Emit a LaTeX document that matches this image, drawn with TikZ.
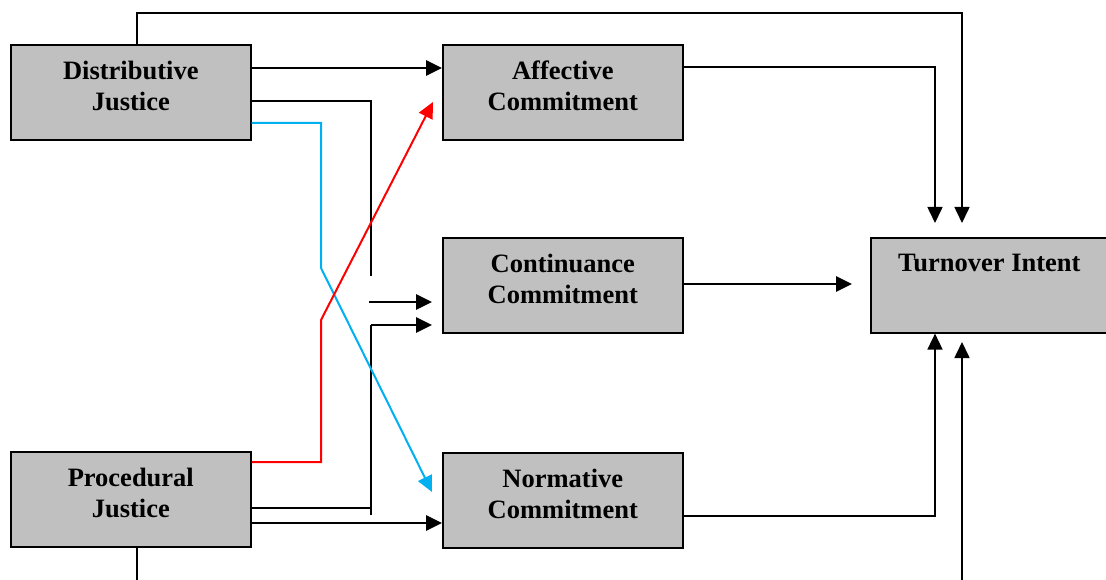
\documentclass[tikz,border=0pt]{standalone}
\usepackage{fontspec}
\setmainfont{Liberation Serif}
\usetikzlibrary{arrows.meta}
\definecolor{boxgray}{HTML}{C0C0C0}
\definecolor{bluel}{HTML}{00B0F0}
\definecolor{redl}{HTML}{FF0000}
\begin{document}
\begin{tikzpicture}[x=1pt,y=-1pt,
  box/.style={draw=black,line width=1.6pt,fill=boxgray,minimum width=240pt,minimum height=95pt,inner sep=0pt,anchor=north west},
  lbl/.style={font=\fontsize{26.5}{31}\selectfont\bfseries,align=center,inner sep=0pt,anchor=north},
  ln/.style={line width=1.6pt},
  lnc/.style={line width=2pt},
  lnb/.style={line width=2.8pt},
  tip/.style={-{Triangle[length=16pt,width=15pt]}},
]
\useasboundingbox (0,0) rectangle (1106,580);

% boxes
\node[box] (dj) at (10,44) {};
\node[box] (ac) at (442,44) {};
\node[box] (cc) at (442,237) {};
\node[box] (nc) at (442,452) {};
\node[box] (pj) at (10,451) {};
\node[box,minimum width=237pt] (ti) at (870,237) {};

% labels
\node[lbl] (djt) at ([yshift=-17pt]dj.north) {Distributive\\Justice};
\node[lbl] (act) at ([yshift=-17pt]ac.north) {Affective\\Commitment};
\node[lbl] (cct) at ([yshift=-17pt]cc.north) {Continuance\\Commitment};
\node[lbl] (nct) at ([yshift=-17pt]nc.north) {Normative\\Commitment};
\node[lbl] (pjt) at ([yshift=-17pt]pj.north) {Procedural\\Justice};
\node[lbl] (tit) at ([yshift=-17pt]ti.north) {Turnover Intent};

% free ends
\coordinate (tiA) at (962,223);
\coordinate (tiB) at (935,223);
\coordinate (tiC) at (852,284);
\coordinate (tiD) at (962,342);
\coordinate (djEnd) at (371,276);
\coordinate (ccAs) at (369,302);
\coordinate (ccA) at (432,302);
\coordinate (ccBs) at (371,325);
\coordinate (ccB) at (432,325);
\coordinate (vLow) at (371,515);
\coordinate (ncA) at (432,492);
\coordinate (acA) at (433,102);
\coordinate (pjEnd) at (137,580);
\coordinate (tiDs) at (962,580);

% top feedback line
\draw[ln,tip] (dj.north -| 137,0) -- (137,13) -| (tiA);
% DJ -> AC
\draw[lnb,tip] (dj.east |- 0,68) -- (ac.west |- 0,68);
% DJ -> (to continuance)
\draw[ln] (dj.east |- 0,101) -| (djEnd);
\draw[lnb,tip] (ccAs) -- (ccA);
% PJ -> continuance
\draw[ln] (vLow) -- (ccBs);
\draw[ln] (pj.east |- 0,508) -- (371,508);
\draw[lnb,tip] (ccBs) -- (ccB);
% blue DJ -> NC
\draw[lnc,bluel,tip] (dj.east |- 0,123) -| (321,268) -- (ncA);
% red PJ -> AC
\draw[lnc,redl,tip] (pj.east |- 0,462) -| (321,320) -- (acA);
% PJ -> NC
\draw[lnb,tip] (pj.east |- 0,523) -- (nc.west |- 0,523);
% AC -> TI
\draw[ln,tip] (ac.east |- 0,67) -| (tiB);
% CC -> TI
\draw[lnb,tip] (cc.east |- 0,284) -- (tiC);
% NC -> TI
\draw[ln,tip] (nc.east |- 0,516) -| (ti.south -| 935,0);
% bottom lines
\draw[ln] (pj.south -| 137,0) -- (pjEnd);
\draw[ln,tip] (tiDs) -- (tiD);
\end{tikzpicture}
\end{document}
